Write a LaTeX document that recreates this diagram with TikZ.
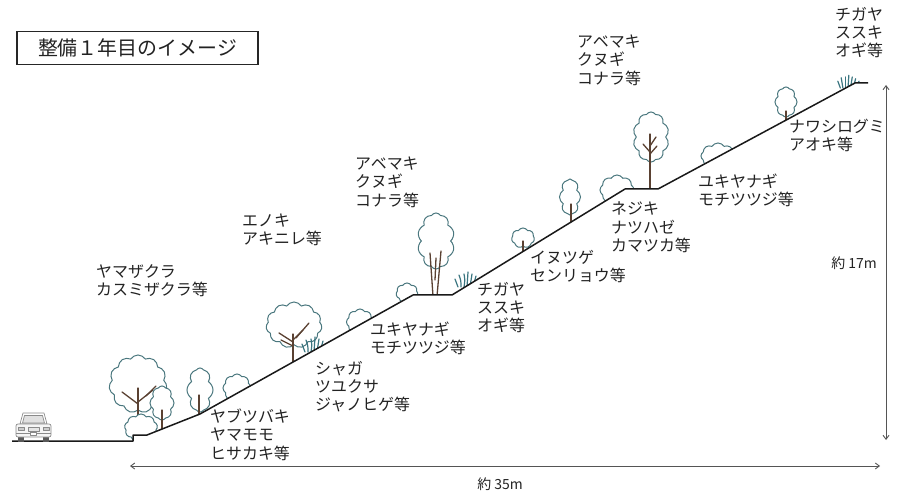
\documentclass[tikz,border=0pt]{standalone}
\usepackage{fontspec}
\setmainfont{Noto Sans CJK JP}
\usetikzlibrary{shapes.symbols,arrows.meta}
\definecolor{leaf}{HTML}{4A777E}
\definecolor{grassc}{HTML}{3A7580}
\definecolor{bark}{HTML}{5A4132}
\definecolor{ink}{HTML}{222222}
\definecolor{dimc}{HTML}{555555}
\definecolor{carc}{HTML}{8A8A8A}

\begin{document}
\begin{tikzpicture}[x=1bp,y=-1bp,
  crown/.style={cloud, cloud puffs=#1, cloud puff arc=115, cloud ignores aspect,
    draw=leaf, line width=1bp, inner sep=0pt, fill=white},
  trunk/.style={draw=bark, line width=1.3bp, line cap=round},
  ground/.style={draw=black!90, line width=1.5bp, line join=round},
  grass/.style={draw=grassc, line width=1.2bp, line cap=round},
  lbl/.style={anchor=north west, inner sep=0pt, align=left, text=ink,
    font=\fontsize{16}{18.2}\selectfont},
  dimline/.style={draw=dimc, line width=0.9bp,
    {Straight Barb[length=4bp,width=6bp]}-{Straight Barb[length=4bp,width=6bp]}},
  dimlbl/.style={inner sep=0pt, text=ink, font=\fontsize{14}{16}\selectfont},
  tuft/.pic={
    \draw[grass] (-9,0) .. controls (-10,-4) .. (-12,-8);
    \draw[grass] (-6,0) .. controls (-6,-6) .. (-8,-12);
    \draw[grass] (-3,0) .. controls (-2,-7) .. (-3,-13);
    \draw[grass] (0,0) .. controls (1,-8) .. (1,-15);
    \draw[grass] (3,0) .. controls (4,-7) .. (5,-13);
    \draw[grass] (6,0) .. controls (8,-6) .. (9,-11);
    \draw[grass] (9,0) .. controls (11,-4) .. (13,-8);
  }
]
\useasboundingbox (0,0) rectangle (900,496);

% title
\node[draw=black!85, line width=1.2bp, minimum width=241bp, minimum height=33bp,
  inner sep=0pt, font=\fontsize{20}{23}\selectfont, text=ink] (title)
  at (137.5,48) {整備１年目のイメージ};

% ground profile
\coordinate (g0) at (12,441);
\coordinate (g1) at (133,441);
\coordinate (g2) at (133,435);
\coordinate (g3) at (147,435);
\coordinate (g4) at (200,414);
\coordinate (g5) at (413,295);
\coordinate (g6) at (452,295);
\coordinate (g7) at (625,189);
\coordinate (g8) at (658,189);
\coordinate (g9) at (855,83);
\coordinate (g10) at (868,83);

% vegetation, kept above the ground line
\begin{scope}
  \clip (0,0) -- (900,0) -- (900,83) -- (g10) -- (g9) -- (g8) -- (g7) -- (g6)
    -- (g5) -- (g4) -- (g3) -- (g2) -- (g1) -- (0,441) -- cycle;

  % foot of the slope
  \node[crown=11, minimum width=58bp, minimum height=58bp] (t1) at (138,384) {};
  \draw[trunk] (138,440) -- (138,388);
  \draw[trunk] (138,404) -- (122,392);
  \draw[trunk] (138,402) -- (153,390);
  \draw[trunk] (146,396) -- (156,386);
  \node[crown=8, minimum width=24bp, minimum height=34bp] (t2) at (162,403) {};
  \draw[trunk] (162,432) -- (162,410);
  \node[crown=9, minimum width=33bp, minimum height=28bp] (s1) at (141,428) {};
  \node[crown=8, minimum width=26bp, minimum height=44bp] (t3) at (200,390) {};
  \draw[trunk] (199,418) -- (199,395);
  \node[crown=8, minimum width=28bp, minimum height=28bp] (s2) at (237,388) {};

  % lower slope
  \node[crown=11, minimum width=56bp, minimum height=46bp] (t4) at (294,325) {};
  \draw[trunk] (293,366) -- (293,334);
  \draw[trunk] (293,346) -- (281,340);
  \draw[trunk] (293,342) -- (279,333);
  \draw[trunk] (293,340) -- (303,330);
  \draw[trunk] (296,338) -- (309,323);
  \pic at (314,352) {tuft};
  \node[crown=8, minimum width=27bp, minimum height=26bp] (s3) at (360,322) {};
  \node[crown=7, minimum width=22bp, minimum height=20bp] (s4) at (407,293) {};

  % middle ledge
  \node[crown=10, minimum width=37bp, minimum height=56bp] (t5) at (436,241) {};
  \draw[trunk] (433,296) -- (430,253);
  \draw[trunk] (437,296) -- (441,251);
  \draw[trunk] (435,280) -- (436,258);
  \pic at (467,287) {tuft};

  % middle slope
  \node[crown=7, minimum width=23bp, minimum height=20bp] (t6) at (523,238) {};
  \draw[trunk] (523,254) -- (523,241);
  \node[crown=8, minimum width=21bp, minimum height=36bp] (t7) at (570,197) {};
  \draw[trunk] (571,225) -- (571,204);
  \node[crown=8, minimum width=34bp, minimum height=30bp] (s5) at (617,190) {};

  % upper ledge
  \node[crown=10, minimum width=36bp, minimum height=50bp] (t8) at (651,137) {};
  \draw[trunk] (650,192) -- (650,134);
  \draw[trunk] (650,152) -- (643,144);
  \draw[trunk] (650,154) -- (657,146);
  \draw[trunk] (650,146) -- (656,137);

  % upper slope
  \node[crown=8, minimum width=34bp, minimum height=26bp] (s6) at (718,156) {};
  \node[crown=8, minimum width=22bp, minimum height=30bp] (t9) at (786,102) {};
  \draw[trunk] (786,124) -- (786,111);
  \pic[scale=0.85] at (848,88) {tuft};
\end{scope}

\draw[ground] (g0) -- (g1) -- (g2) -- (g3) -- (g4) -- (g5) -- (g6) -- (g7)
  -- (g8) -- (g9) -- (g10);

% car on the road
\begin{scope}[draw=carc, line width=0.7bp, line join=round]
  \fill[black!65] (18,436) rectangle (24,442);
  \fill[black!65] (43,436) rectangle (49,442);
  \draw[fill=white] (20,424) -- (23,413) -- (44,413) -- (47,424) -- cycle;
  \draw[fill=black!12] (22.5,423) -- (24.5,415.5) -- (42.5,415.5) -- (44.5,423) -- cycle;
  \draw[fill=black!4, rounded corners=2bp] (16,424) rectangle (51,437);
  \draw[fill=black!20] (18,427) rectangle (24,430.5);
  \draw[fill=black!20] (43,427) rectangle (49,430.5);
  \draw[fill=black!10] (28,427.5) rectangle (39,431);
  \draw (16,433.5) -- (51,433.5);
  \draw[fill=white] (30.5,432.5) rectangle (36.5,435.5);
\end{scope}

% species labels
\node[lbl] (l1)  at (96,264)  {ヤマザクラ\\カスミザクラ等};
\node[lbl] (l2)  at (242,214) {エノキ\\アキニレ等};
\node[lbl] (l3)  at (355,157) {アベマキ\\クヌギ\\コナラ等};
\node[lbl] (l4)  at (577,35)  {アベマキ\\クヌギ\\コナラ等};
\node[lbl] (l5)  at (835,7)   {チガヤ\\ススキ\\オギ等};
\node[lbl] (l6)  at (789,119) {ナワシログミ\\アオキ等};
\node[lbl] (l7)  at (698,174) {ユキヤナギ\\モチツツジ等};
\node[lbl] (l8)  at (611,202) {ネジキ\\ナツハゼ\\カマツカ等};
\node[lbl] (l9)  at (530,250) {イヌツゲ\\センリョウ等};
\node[lbl] (l10) at (477,282) {チガヤ\\ススキ\\オギ等};
\node[lbl] (l11) at (370,322) {ユキヤナギ\\モチツツジ等};
\node[lbl] (l12) at (315,361) {シャガ\\ツユクサ\\ジャノヒゲ等};
\node[lbl] (l13) at (210,409) {ヤブツバキ\\ヤマモモ\\ヒサカキ等};

% dimensions
\coordinate (hl) at (130,466);
\coordinate (hr) at (880,466);
\draw[dimline] (hl) -- (hr);
\node[dimlbl] (w) at (500,484) {約 35m};
\coordinate (vt) at (886,85);
\coordinate (vb) at (886,440);
\draw[dimline] (vb) -- (vt);
\node[dimlbl, anchor=east] (h) at (877,263) {約 17m};
\end{tikzpicture}
\end{document}
